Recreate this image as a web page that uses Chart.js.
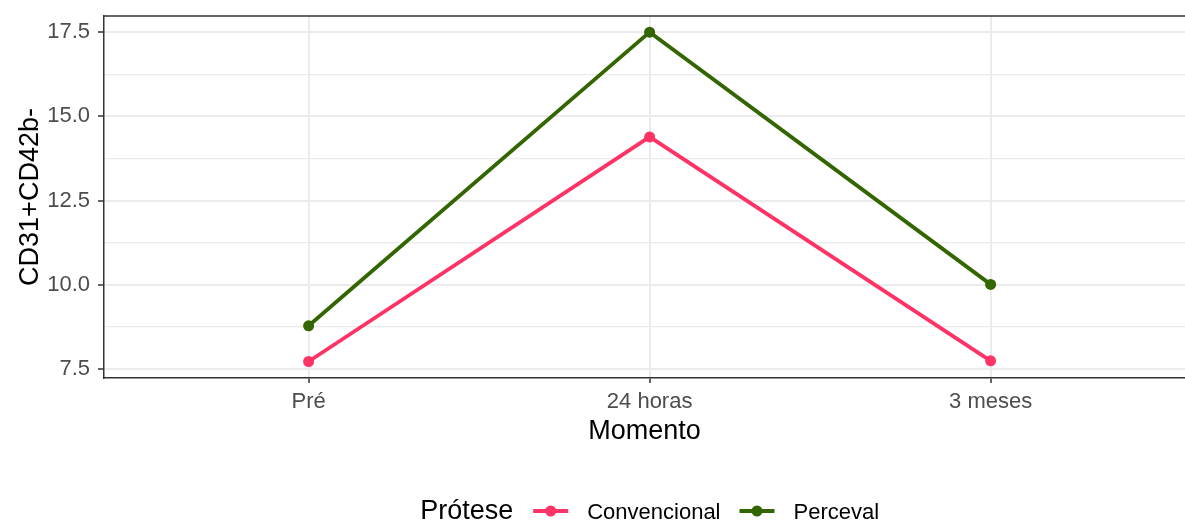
<!DOCTYPE html>
<html>
<head>
<meta charset="utf-8">
<script src="https://cdn.jsdelivr.net/npm/chart.js@4.4.1/dist/chart.umd.min.js"></script>
<style>
  html, body { margin: 0; padding: 0; background: #ffffff; }
  #wrap { width: 1185px; height: 522px; }
</style>
</head>
<body>
<div id="wrap"><canvas id="c" width="1185" height="522"></canvas></div>
<script>
// ---- Data ----
const categories = ["Pré", "24 horas", "3 meses"];
const convencional = [7.72, 14.39, 7.74];
const perceval = [8.78, 17.50, 10.01];
const seriesNames = ["Convencional", "Perceval"];
const yMajorTicks = [7.5, 10.0, 12.5, 15.0, 17.5];
const yMinorTicks = [8.75, 11.25, 13.75, 16.25];
const legendTitle = "Prótese";
const xTitle = "Momento";
const yTitle = "CD31+CD42b-";

const FONT = "'Liberation Sans', Arial, sans-serif";
const colors = ["#FF3366", "#336600"];

function toPoints(arr) { return arr.map((v, i) => ({ x: i, y: v })); }

const legendPlugin = {
  id: 'ggLegend',
  afterDraw(chart) {
    const ctx = chart.ctx;
    const xs = chart.scales.x;
    const center = xs.getPixelForValue(1);
    const y = 511;
    const baseline = 519;
    ctx.save();
    ctx.textBaseline = 'alphabetic';
    ctx.font = "27px " + FONT;
    const tW = ctx.measureText(legendTitle).width;
    ctx.font = "22px " + FONT;
    const lW = seriesNames.map(n => ctx.measureText(n).width);
    const keyW = 35, gapTitle = 20, gapKey = 19, gapItem = 19;
    const total = tW + gapTitle + seriesNames.reduce((s, n, i) => s + (i > 0 ? gapItem : 0) + keyW + gapKey + lW[i], 0);
    let x = center - total / 2;
    ctx.fillStyle = '#000000';
    ctx.font = "27px " + FONT;
    ctx.textAlign = 'left';
    ctx.fillText(legendTitle, x, baseline);
    x += tW + gapTitle;
    seriesNames.forEach((n, i) => {
      if (i > 0) x += gapItem;
      ctx.strokeStyle = colors[i];
      ctx.lineWidth = 4;
      ctx.beginPath();
      ctx.moveTo(x, y);
      ctx.lineTo(x + keyW, y);
      ctx.stroke();
      ctx.fillStyle = colors[i];
      ctx.beginPath();
      ctx.arc(x + keyW / 2, y, 5.5, 0, Math.PI * 2);
      ctx.fill();
      x += keyW + gapKey;
      ctx.fillStyle = '#000000';
      ctx.font = "22px " + FONT;
      ctx.fillText(n, x, baseline);
      x += lW[i];
    });
    ctx.restore();
  }
};

const topBorderPlugin = {
  id: 'topBorder',
  afterDatasetsDraw(chart) {
    const { ctx, chartArea } = chart;
    ctx.save();
    ctx.strokeStyle = '#333333';
    ctx.lineWidth = 1.5;
    ctx.beginPath();
    ctx.moveTo(chartArea.left, chartArea.top);
    ctx.lineTo(chartArea.right + 10, chartArea.top);
    ctx.stroke();
    ctx.restore();
  }
};

const isMinor = v => yMinorTicks.some(m => Math.abs(m - v) < 1e-6);

new Chart(document.getElementById('c'), {
  type: 'line',
  data: {
    datasets: [
      { label: seriesNames[0], data: toPoints(convencional), borderColor: colors[0], backgroundColor: colors[0],
        borderWidth: 3.8, pointRadius: 5.5, pointBorderWidth: 0, pointBackgroundColor: colors[0], tension: 0 },
      { label: seriesNames[1], data: toPoints(perceval), borderColor: colors[1], backgroundColor: colors[1],
        borderWidth: 3.8, pointRadius: 5.5, pointBorderWidth: 0, pointBackgroundColor: colors[1], tension: 0 }
    ]
  },
  options: {
    responsive: false,
    animation: false,
    devicePixelRatio: 1,
    layout: { autoPadding: false, padding: { left: 0, right: 0, top: 16, bottom: 64 } },
    plugins: { legend: { display: false }, tooltip: { enabled: false } },
    scales: {
      x: {
        type: 'linear',
        min: -0.6,
        max: 2.57,
        afterBuildTicks: s => { s.ticks = categories.map((c, i) => ({ value: i })); },
        afterFit: s => { s.height = 80; s.paddingLeft = 0; s.paddingRight = 0; },
        ticks: {
          callback: v => categories[v] ?? '',
          color: '#4D4D4D',
          font: { family: FONT, size: 22 },
          padding: 6,
          maxRotation: 0,
          autoSkip: false
        },
        grid: { color: '#EBEBEB', lineWidth: 2, tickLength: 5, tickColor: '#333333', tickWidth: 1.5 },
        border: { display: true, color: '#333333', width: 1.5 },
        title: { display: true, text: xTitle, color: '#000000', font: { family: FONT, size: 27 }, padding: { top: 0, bottom: 10 } }
      },
      y: {
        type: 'linear',
        min: 7.23,
        max: 17.98,
        afterBuildTicks: s => { s.ticks = yMajorTicks.concat(yMinorTicks).sort((a, b) => a - b).map(v => ({ value: v })); },
        afterFit: s => { s.width = 104; s.paddingTop = 0; s.paddingBottom = 0; },
        ticks: {
          callback: v => isMinor(v) ? '' : v.toFixed(1),
          color: '#4D4D4D',
          font: { family: FONT, size: 22 },
          padding: 8,
          autoSkip: false
        },
        grid: {
          color: ctx => '#EBEBEB',
          lineWidth: ctx => (ctx.tick && isMinor(ctx.tick.value)) ? 1.2 : 2,
          tickLength: 6,
          tickColor: ctx => (ctx.tick && isMinor(ctx.tick.value)) ? 'rgba(0,0,0,0)' : '#333333',
          tickWidth: 1.5
        },
        border: { display: true, color: '#333333', width: 1.5 },
        title: { display: true, text: yTitle, color: '#000000', font: { family: FONT, size: 27 }, padding: { top: 14, bottom: 0 } }
      }
    }
  },
  plugins: [legendPlugin, topBorderPlugin]
});
</script>
</body>
</html>
